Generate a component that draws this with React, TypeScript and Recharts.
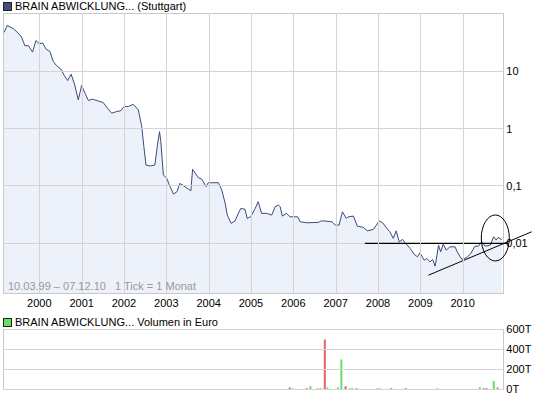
import React from 'react';
import {
    ComposedChart, BarChart, Area, Bar, Cell, XAxis, YAxis,
    ReferenceArea, ReferenceLine, ReferenceDot,
} from 'recharts';

// price, monthly ticks (decimal year / EUR)
const priceDates = [
    1999.17, 1999.24, 1999.39, 1999.50, 1999.58, 1999.66, 1999.74, 1999.84, 1999.92,
    2000.00, 2000.08, 2000.16, 2000.25, 2000.33, 2000.41, 2000.51, 2000.59, 2000.67, 2000.75, 2000.83, 2000.92,
    2001.00, 2001.08, 2001.16, 2001.25, 2001.36, 2001.51, 2001.61, 2001.71, 2001.83, 2001.92,
    2002.00, 2002.10, 2002.22, 2002.34, 2002.42, 2002.47, 2002.52, 2002.62, 2002.73, 2002.79, 2002.84, 2002.87, 2002.93,
    2003.01, 2003.09, 2003.17, 2003.25, 2003.32, 2003.44, 2003.58, 2003.62, 2003.68, 2003.76, 2003.84, 2003.94, 2003.99,
    2004.23, 2004.31, 2004.39, 2004.44, 2004.53, 2004.62, 2004.70, 2004.76, 2004.86, 2004.91, 2004.99,
    2005.10, 2005.17, 2005.25, 2005.37, 2005.49, 2005.57, 2005.65, 2005.69, 2005.74, 2005.84, 2005.92,
    2006.10, 2006.16, 2006.32, 2006.59, 2006.67, 2006.91, 2006.99,
    2007.08, 2007.16, 2007.25, 2007.30, 2007.42, 2007.51, 2007.65, 2007.75, 2007.89,
    2008.03, 2008.11, 2008.21, 2008.28, 2008.36, 2008.43, 2008.50, 2008.58, 2008.64, 2008.76, 2008.85, 2008.93, 2008.99,
    2009.09, 2009.15, 2009.23, 2009.29, 2009.35, 2009.43, 2009.48, 2009.54, 2009.61, 2009.70, 2009.82, 2009.87, 2009.98,
    2010.10, 2010.19, 2010.29, 2010.37, 2010.45, 2010.53, 2010.65, 2010.73, 2010.79, 2010.84, 2010.92,
];
const priceValues = [
    47.7, 63.1, 55.3, 46.4, 39.6, 27.9, 28.2, 21.6, 34.5,
    30.3, 31.1, 24.4, 22.2, 14.8, 12.5, 10.9, 8.45, 6.9, 8.93, 6.05, 3.18,
    5.65, 4.16, 3.09, 3.27, 3.09, 2.85, 2.28, 1.86, 1.99, 2.04,
    2.43, 2.43, 2.65, 2.12, 1.08, 0.485, 0.232, 0.223, 0.232, 0.52, 0.887, 0.593, 0.156,
    0.136, 0.097, 0.0724, 0.0794, 0.111, 0.097, 0.0826, 0.195, 0.168, 0.139, 0.131, 0.097, 0.114,
    0.114, 0.0849, 0.0498, 0.0311, 0.0223, 0.0244, 0.0333, 0.0407, 0.0391, 0.0272, 0.029,
    0.0407, 0.0531, 0.0333, 0.0333, 0.0311, 0.0435, 0.0465, 0.0435, 0.0299, 0.0333, 0.029,
    0.029, 0.0238, 0.0228, 0.0232, 0.0247, 0.0238, 0.0208,
    0.0208, 0.0355, 0.0272, 0.029, 0.0299, 0.02, 0.019, 0.0165, 0.0175,
    0.0244, 0.0228, 0.0182, 0.0159, 0.0122, 0.0165, 0.0106, 0.0117, 0.0102, 0.00815, 0.00648, 0.00581, 0.00683,
    0.00508, 0.00544, 0.00475, 0.00523, 0.00399, 0.00929, 0.0071, 0.00968, 0.0076, 0.00869, 0.00869, 0.0071, 0.00524,
    0.00567, 0.00665, 0.00893, 0.00893, 0.0106, 0.00893, 0.00929, 0.013, 0.0114, 0.0127, 0.0116,
];

// volume in euro, direction of the month: u = up, d = down, f = flat
const volDates = [
    2005.92, 2005.99, 2006.32, 2006.41, 2006.58, 2006.65, 2006.75, 2006.81,
    2007.06, 2007.14, 2007.24, 2007.34, 2007.40, 2007.50, 2007.99,
    2008.06, 2008.32, 2008.66, 2009.41, 2010.41, 2010.51, 2010.57, 2010.74, 2010.83,
];
const volValues = [
    20000, 13000, 13000, 33000, 13000, 13000, 500000, 23000,
    23000, 300000, 33000, 13000, 13000, 13000, 13000,
    13000, 13000, 13000, 13000, 23000, 13000, 13000, 85000, 20000,
];
const volDir = [
    'd', 'f', 'd', 'u', 'f', 'u', 'd', 'f',
    'f', 'u', 'd', 'u', 'u', 'd', 'u',
    'f', 'd', 'd', 'u', 'u', 'd', 'd', 'u', 'd',
];

const yearTicks = [2000, 2001, 2002, 2003, 2004, 2005, 2006, 2007, 2008, 2009, 2010];
const priceTicks = [0.01, 0.1, 1, 10];
const volTicks = [0, 200000, 400000, 600000];

// hand-drawn markings: resistance line, trend line, circle
const resistX = [2007.69, 2011.07];
const resistY = [0.01, 0.01];
const trendX = [2009.19, 2011.63];
const trendY = [0.00278, 0.0159];
const circleAt = { x: 2010.77, y: 0.0124 };

const xDomain = [1999.1427, 2010.959];
const yDomain = [0.00136, 104];
const volDomain = [0, 600000];

const FONT = '"Liberation Sans", Arial, sans-serif';
const GRID = '#D4D4D4';
const dirColor: Record<string, string> = { u: '#66DD66', d: '#E06666', f: '#BBBBBB' };

const priceData = priceDates.map((d, i) => ({ date: d, price: priceValues[i] }));
const volData = volDates.map((d, i) => ({ date: d, vol: volValues[i], dir: volDir[i] }));

const fmtPrice = (v: number) => String(v).replace('.', ',');
const fmtVol = (v: number) => `${v / 1000}T`;

const tickStyle = { fontSize: 11, fill: '#000', fontFamily: FONT };

const Ellipse = (props: any) => (
    <ellipse cx={props.cx} cy={props.cy} rx={14} ry={23} fill="none" stroke="#000" strokeWidth={1} />
);

// year tick: vertical grid line up through the plot, plus optional label
const YearTick = (props: any) => {
    const { x, y, payload, gap, span, label } = props;
    const gx = Math.round(x) + 0.5;
    return (
        <g>
            <rect x={gx - 0.5} y={y - gap - span} width={1} height={span} fill={GRID} />
            {label && (
                <text x={x} y={y} dy="0.71em" textAnchor="middle" fontSize={11} fill="#000" fontFamily={FONT}>
                    {payload.value}
                </text>
            )}
        </g>
    );
};

const hLines = (ticks: number[]) =>
    ticks.map((t) => (
        <ReferenceLine
            key={`hy${t}`}
            segment={[{ x: xDomain[0], y: t }, { x: xDomain[1], y: t }]}
            stroke={GRID}
            strokeWidth={1}
            shapeRendering="crispEdges"
            ifOverflow="visible"
        />
    ));

const App: React.FC = () => {
    return (
        <div style={{ position: 'fixed', left: 0, top: 0, width: 545, height: 398, background: '#fff', fontFamily: FONT }}>
            <div style={{ position: 'absolute', left: 3, top: 2, width: 7, height: 7, background: '#3F5080', border: '1px solid #222' }} />
            <div style={{ position: 'absolute', left: 15, top: -1, fontSize: 11, lineHeight: '14px', color: '#000' }}>
                BRAIN ABWICKLUNG... (Stuttgart)
            </div>

            <ComposedChart
                width={545}
                height={312}
                data={priceData}
                margin={{ top: 13, right: 0, left: 3, bottom: 0 }}
                style={{ position: 'absolute', left: 0, top: 0 }}
            >
                <XAxis
                    dataKey="date"
                    type="number"
                    domain={xDomain}
                    ticks={yearTicks}
                    interval={0}
                    tickLine={false}
                    axisLine={false}
                    tickSize={0}
                    tickMargin={6}
                    height={19}
                    tick={(p: any) => <YearTick {...p} gap={6} span={280} label />}
                />
                <YAxis
                    orientation="right"
                    type="number"
                    scale="log"
                    domain={yDomain}
                    ticks={priceTicks}
                    interval={0}
                    tickFormatter={fmtPrice}
                    tickLine={false}
                    axisLine={false}
                    tickSize={0}
                    tickMargin={3}
                    width={41.7}
                    tick={{ ...tickStyle, textAnchor: 'start' }}
                />
                {hLines(priceTicks)}
                <Area
                    dataKey="price"
                    type="linear"
                    stroke="#3B4B7C"
                    strokeWidth={1}
                    fill="#DCE3F5"
                    fillOpacity={0.5}
                    baseValue={yDomain[0]}
                    dot={false}
                    activeDot={false}
                    isAnimationActive={false}
                />
                <ReferenceArea
                    x1={xDomain[0]} x2={xDomain[1]} y1={yDomain[0]} y2={yDomain[1]}
                    fill="none" stroke="#C8C8C8" shapeRendering="crispEdges"
                />
                <ReferenceLine
                    segment={[{ x: resistX[0], y: resistY[0] }, { x: resistX[1], y: resistY[1] }]}
                    stroke="#000"
                    strokeWidth={1.3}
                    ifOverflow="visible"
                />
                <ReferenceLine
                    segment={[{ x: trendX[0], y: trendY[0] }, { x: trendX[1], y: trendY[1] }]}
                    stroke="#000"
                    strokeWidth={1}
                    ifOverflow="visible"
                />
                <ReferenceDot x={circleAt.x} y={circleAt.y} ifOverflow="visible" shape={Ellipse} />
            </ComposedChart>

            <div style={{ position: 'absolute', left: 8, top: 279, fontSize: 11, lineHeight: '14px', color: '#999', whiteSpace: 'pre' }}>
                {'10.03.99 – 07.12.10   1 Tick = 1 Monat'}
            </div>

            <div style={{ position: 'absolute', left: 3, top: 318, width: 7, height: 7, background: '#66DD66', border: '1px solid #222' }} />
            <div style={{ position: 'absolute', left: 15, top: 315, fontSize: 11, lineHeight: '14px', color: '#000' }}>
                BRAIN ABWICKLUNG... Volumen in Euro
            </div>

            <BarChart
                width={545}
                height={86}
                data={volData}
                margin={{ top: 17.5, right: 0, left: 3, bottom: 8.5 }}
                style={{ position: 'absolute', left: 0, top: 312 }}
            >
                <XAxis
                    dataKey="date"
                    type="number"
                    domain={xDomain}
                    ticks={yearTicks}
                    interval={0}
                    height={0}
                    tickLine={false}
                    axisLine={false}
                    tickSize={0}
                    tickMargin={0}
                    tick={(p: any) => <YearTick {...p} gap={0} span={60} label={false} />}
                />
                <YAxis
                    orientation="right"
                    type="number"
                    domain={volDomain}
                    ticks={volTicks}
                    interval={0}
                    tickFormatter={fmtVol}
                    tickLine={false}
                    axisLine={false}
                    tickSize={0}
                    tickMargin={3}
                    width={41.7}
                    tick={{ ...tickStyle, textAnchor: 'start' }}
                />
                {hLines(volTicks)}
                <ReferenceArea
                    x1={xDomain[0]} x2={xDomain[1]} y1={volDomain[0]} y2={volDomain[1]}
                    fill="none" stroke="#C8C8C8" shapeRendering="crispEdges"
                />
                <Bar dataKey="vol" barSize={2} isAnimationActive={false}>
                    {volData.map((d, i) => (
                        <Cell key={i} fill={dirColor[d.dir]} />
                    ))}
                </Bar>
            </BarChart>
        </div>
    );
};

export default App;
